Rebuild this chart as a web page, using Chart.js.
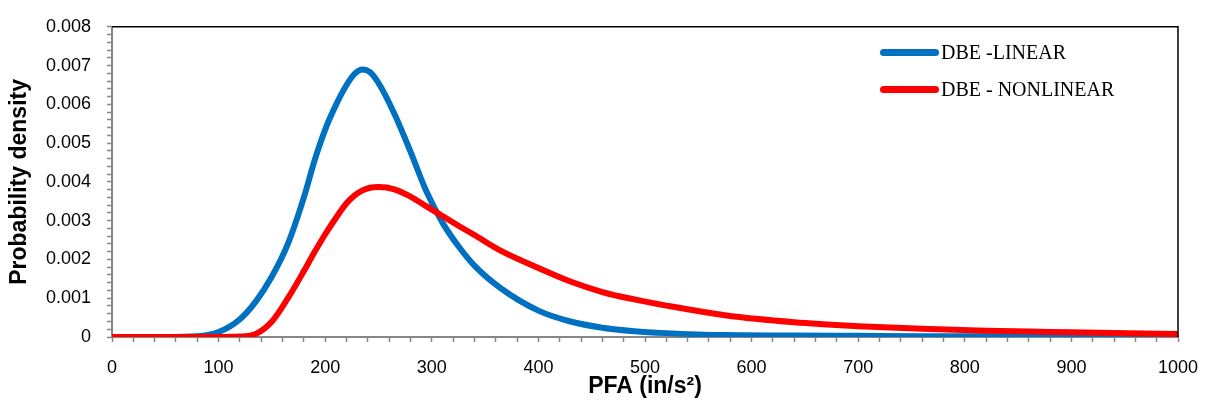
<!DOCTYPE html>
<html lang="en">
<head>
    <meta charset="UTF-8">
    <title>PFA Probability density</title>
    <script src="https://cdn.jsdelivr.net/npm/chart.js"></script>
    <style>
        body {
            margin: 0;
            background: white;
        }
        .wrap {
            position: relative;
            width: 1205px;
            height: 403px;
        }
        .legend-row {
            position: absolute;
            left: 880px;
            height: 24px;
            display: flex;
            align-items: center;
            font-family: "Liberation Serif", "Times New Roman", serif;
            font-size: 20px;
            color: #000;
        }
        .legend-line {
            display: inline-block;
            width: 59px;
            height: 7px;
            border-radius: 4px;
            margin-right: 2px;
        }
    </style>
</head>
<body>
    <div class="wrap">
        <canvas id="pdfChart" width="1205" height="403"></canvas>
        <div id="legend"></div>
    </div>

    <script>
        // PFA values (in/s2) where the curves were read
        const pfa = [0, 50, 80, 100, 120, 135, 150, 165, 180, 190, 200, 210, 220, 228, 235, 242, 250, 265,
                     280, 295, 310, 325, 340, 365, 400, 430, 460, 490, 520, 575, 640, 700, 760, 820,
                     880, 940, 1000];

        const linearDensity = [0, 0, 0.00002, 0.00013, 0.00046, 0.00092, 0.00156, 0.0024, 0.0036, 0.00455,
                               0.00535, 0.00598, 0.0065, 0.0068, 0.0069, 0.00683, 0.00655, 0.00575,
                               0.00478, 0.00375, 0.00295, 0.00234, 0.00184, 0.00125, 0.00068, 0.0004,
                               0.00024, 0.00015, 0.0001, 0.00005, 0.00004, 0.00003, 0.00002, 0.00002,
                               0.00001, 0.00001, 0.00001];

        const nonlinearDensity = [0, 0, 0, 0, 0.00001, 0.00008, 0.0004, 0.001, 0.0017, 0.00219,
                                  0.00265, 0.00307, 0.00345, 0.00366, 0.00378, 0.00385, 0.00387, 0.00381,
                                  0.00362, 0.00337, 0.00312, 0.00287, 0.00263, 0.00222, 0.00178, 0.00143,
                                  0.00116, 0.00097, 0.00081, 0.00056, 0.00038, 0.00028, 0.00021, 0.00016,
                                  0.00013, 0.0001, 0.00008];

        const seriesNames = ['DBE -LINEAR', 'DBE - NONLINEAR'];
        const seriesColors = ['#0070C0', '#FF0000'];

        const xTicks = [0, 100, 200, 300, 400, 500, 600, 700, 800, 900, 1000];
        const yTicks = [0, 0.001, 0.002, 0.003, 0.004, 0.005, 0.006, 0.007, 0.008];

        const tickFont = { family: '"Liberation Sans", Arial, sans-serif', size: 18 };
        const titleFont = { family: '"Liberation Sans", Arial, sans-serif', size: 23, weight: 'bold' };
        const axisGray = '#868686';

        function toPoints(ys) {
            return pfa.map((x, i) => ({ x: x, y: ys[i] }));
        }

        // black frame on the top and right side of the plot
        const framePlugin = {
            id: 'frame',
            afterDraw(chart) {
                const a = chart.chartArea;
                const ctx = chart.ctx;
                ctx.save();
                ctx.strokeStyle = '#000';
                ctx.lineWidth = 1.5;
                ctx.beginPath();
                ctx.moveTo(a.left, a.top);
                ctx.lineTo(a.right, a.top);
                ctx.lineTo(a.right, a.bottom);
                ctx.stroke();
                ctx.restore();
            }
        };

        const ctx = document.getElementById('pdfChart').getContext('2d');
        new Chart(ctx, {
            type: 'line',
            data: {
                datasets: [
                    {
                        label: seriesNames[0],
                        data: toPoints(linearDensity),
                        borderColor: seriesColors[0],
                        borderWidth: 6,
                        pointRadius: 0,
                        cubicInterpolationMode: 'monotone',
                        fill: false,
                        order: 1
                    },
                    {
                        label: seriesNames[1],
                        data: toPoints(nonlinearDensity),
                        borderColor: seriesColors[1],
                        borderWidth: 6,
                        pointRadius: 0,
                        cubicInterpolationMode: 'monotone',
                        fill: false,
                        order: 0
                    }
                ]
            },
            options: {
                responsive: false,
                animation: false,
                layout: { padding: { left: 0, right: 27, top: 16, bottom: 0 } },
                plugins: {
                    legend: { display: false },
                    tooltip: { enabled: false }
                },
                scales: {
                    x: {
                        type: 'linear',
                        min: 0,
                        max: 1000,
                        afterFit: s => {
                            s.height = 66;
                            s.paddingLeft = 0;
                            s.paddingRight = 0;
                        },
                        border: { color: axisGray, width: 2 },
                        grid: { drawOnChartArea: false, tickLength: 5, tickColor: axisGray, tickWidth: 1.5 },
                        ticks: {
                            stepSize: 20,
                            autoSkip: false,
                            maxRotation: 0,
                            padding: 15,
                            color: '#000',
                            font: tickFont,
                            callback: v => xTicks.includes(v) ? String(v) : ''
                        },
                        title: {
                            display: true,
                            text: 'PFA (in/s²)',
                            color: '#000',
                            font: titleFont,
                            padding: { top: 0, bottom: 3 }
                        }
                    },
                    y: {
                        min: 0,
                        max: 0.008,
                        afterFit: s => { s.width = 112; },
                        border: { color: axisGray, width: 2 },
                        grid: { drawOnChartArea: false, tickLength: 5, tickColor: axisGray, tickWidth: 1.5 },
                        ticks: {
                            stepSize: 0.0002,
                            autoSkip: false,
                            padding: 16,
                            color: '#000',
                            font: tickFont,
                            callback: v => {
                                const t = yTicks.find(k => Math.abs(k - v) < 1e-9);
                                if (t === undefined) return '';
                                return t === 0 ? '0' : t.toFixed(3);
                            }
                        },
                        title: {
                            display: true,
                            text: 'Probability density',
                            color: '#000',
                            font: titleFont,
                            padding: { top: 6, bottom: 0 }
                        }
                    }
                }
            },
            plugins: [framePlugin]
        });

        // legend inside the plot, top right
        const legend = document.getElementById('legend');
        const legendTops = [40, 77];
        seriesNames.forEach((name, i) => {
            const row = document.createElement('div');
            row.className = 'legend-row';
            row.style.top = legendTops[i] + 'px';
            const line = document.createElement('span');
            line.className = 'legend-line';
            line.style.background = seriesColors[i];
            row.appendChild(line);
            row.appendChild(document.createTextNode(name));
            legend.appendChild(row);
        });
    </script>
</body>
</html>
